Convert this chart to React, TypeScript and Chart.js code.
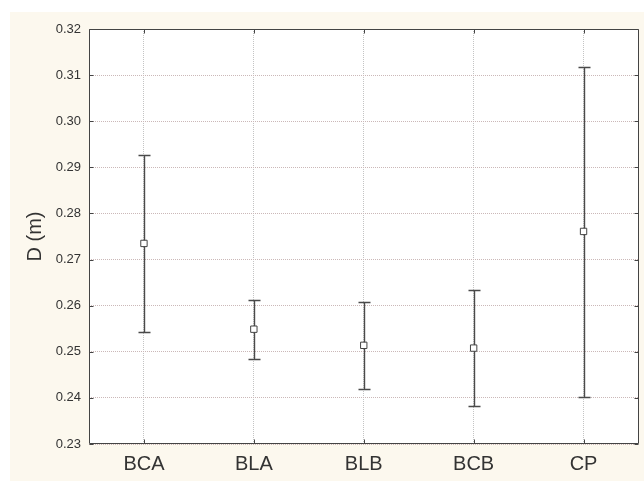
import { useEffect, useRef } from 'react';
import { Chart, registerables } from 'chart.js';

Chart.register(...registerables);

const categories = ['BCA', 'BLA', 'BLB', 'BCB', 'CP'];
const means = [0.2735, 0.2549, 0.2514, 0.2508, 0.2761];
const upper = [0.2927, 0.2612, 0.2609, 0.2633, 0.3118];
const lower = [0.2543, 0.2484, 0.2419, 0.2383, 0.2401];
const yMin = 0.23;
const yMax = 0.32;
const yStep = 0.01;
const yTitle = 'D (m)';

const FONT = "'Liberation Sans', Arial, Helvetica, sans-serif";

const framePlugin = {
  id: 'frame',
  beforeDraw(chart: any) {
    const { ctx, chartArea } = chart;
    ctx.save();
    ctx.fillStyle = '#ffffff';
    ctx.fillRect(chartArea.left, chartArea.top, chartArea.right - chartArea.left, chartArea.bottom - chartArea.top);
    ctx.restore();
  },
  afterDraw(chart: any) {
    const { ctx, chartArea } = chart;
    const x = chart.scales.x;
    const y = chart.scales.y;
    const l = Math.round(chartArea.left) + 0.5;
    const r = Math.round(chartArea.right) - 0.5;
    const t = Math.round(chartArea.top) + 0.5;
    const b = Math.round(chartArea.bottom) - 0.5;
    ctx.save();
    ctx.strokeStyle = '#444444';
    ctx.lineWidth = 1;
    ctx.beginPath();
    ctx.rect(l, t, r - l, b - t);
    // inside ticks
    y.ticks.forEach((tk: any) => {
      const py = Math.round(y.getPixelForValue(tk.value)) + 0.5;
      ctx.moveTo(l, py);
      ctx.lineTo(l + 4, py);
      ctx.moveTo(r, py);
      ctx.lineTo(r - 4, py);
    });
    categories.forEach((_c, i) => {
      const px = Math.round(x.getPixelForValue(i)) + 0.5;
      ctx.moveTo(px, b);
      ctx.lineTo(px, b - 4);
      ctx.moveTo(px, t);
      ctx.lineTo(px, t + 4);
    });
    ctx.stroke();
    ctx.restore();
  },
};

const errorBarPlugin = {
  id: 'errorBars',
  beforeDatasetsDraw(chart: any) {
    const { ctx } = chart;
    const x = chart.scales.x;
    const y = chart.scales.y;
    ctx.save();
    ctx.strokeStyle = '#4a4a4a';
    ctx.lineWidth = 1.4;
    categories.forEach((_c, i) => {
      const px = Math.round(x.getPixelForValue(i)) + 0.5;
      const top = Math.round(y.getPixelForValue(upper[i])) + 0.5;
      const bot = Math.round(y.getPixelForValue(lower[i])) + 0.5;
      ctx.beginPath();
      ctx.moveTo(px, top);
      ctx.lineTo(px, bot);
      ctx.moveTo(px - 6, top);
      ctx.lineTo(px + 6, top);
      ctx.moveTo(px - 6, bot);
      ctx.lineTo(px + 6, bot);
      ctx.stroke();
    });
    ctx.restore();
  },
};

export default function App() {
  const ref = useRef<HTMLCanvasElement | null>(null);

  useEffect(() => {
    if (!ref.current) return;
    const chart = new Chart(ref.current, {
      type: 'line',
      data: {
        labels: categories,
        datasets: [
          {
            data: means,
            showLine: false,
            pointStyle: 'rect',
            pointRadius: 4.5,
            pointBorderWidth: 1,
            pointBorderColor: '#444444',
            pointBackgroundColor: '#ffffff',
          },
        ],
      },
      options: {
        responsive: false,
        animation: false,
        devicePixelRatio: 1,
        layout: { padding: { top: 17, right: 5, left: 0, bottom: 0 } },
        plugins: {
          legend: { display: false },
          tooltip: { enabled: false },
        },
        scales: {
          x: {
            type: 'category',
            offset: true,
            border: { display: false },
            grid: {
              display: true,
              offset: false,
              drawTicks: false,
              color: '#c4c4c4',
              borderDash: [1, 1],
            } as any,
            ticks: {
              padding: 8,
              color: '#333333',
              font: { family: FONT, size: 20 },
              maxRotation: 0,
            },
            afterFit: (scale: any) => {
              scale.height = 37;
            },
          },
          y: {
            type: 'linear',
            min: yMin,
            max: yMax,
            border: { display: false, dash: [1, 1] },
            grid: {
              display: true,
              drawTicks: false,
              color: '#cbb8b8',
            },
            ticks: {
              stepSize: yStep,
              padding: 8,
              color: '#333333',
              font: { family: FONT, size: 13 },
              callback: (v: any) => Number(v).toFixed(2),
            },
            title: {
              display: true,
              text: yTitle,
              color: '#333333',
              font: { family: FONT, size: 20 },
              padding: { top: 13, bottom: 0 },
            },
            afterFit: (scale: any) => {
              scale.width = 79;
            },
          },
        },
      },
      plugins: [framePlugin, errorBarPlugin],
    });
    // dotted grid lines
    (chart.options.scales as any).x.border = { display: false, dash: [1, 1] };
    chart.update();
    return () => chart.destroy();
  }, []);

  return (
    <div
      style={{
        position: 'absolute',
        left: 10,
        top: 12,
        width: 634,
        height: 469,
        background: '#fcf8ee',
      }}
    >
      <canvas ref={ref} width={634} height={469} style={{ display: 'block', width: 634, height: 469 }} />
    </div>
  );
}
